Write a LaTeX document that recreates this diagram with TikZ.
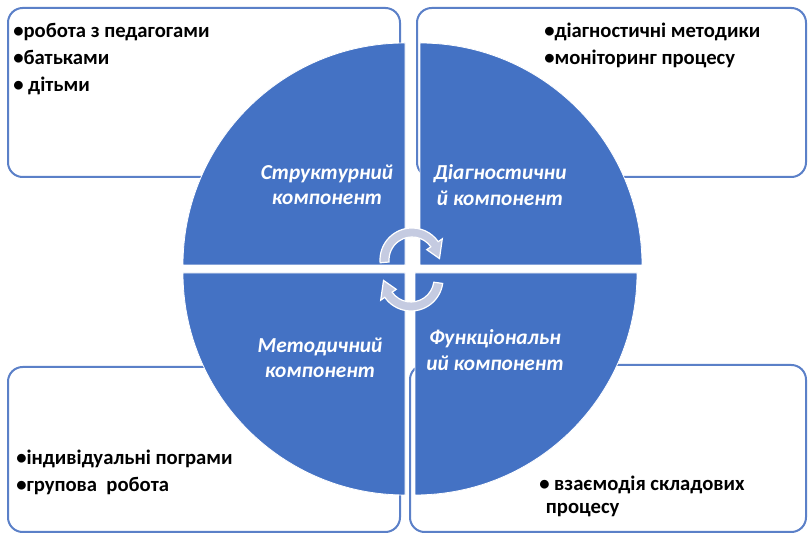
\documentclass[tikz,border=0pt]{standalone}
\usepackage{fontspec}
\setmainfont{Carlito}
\usetikzlibrary{positioning}
\definecolor{quadblue}{HTML}{4472C4}
\definecolor{boxblue}{HTML}{5B80C8}
\definecolor{cyclegrey}{HTML}{C5CBE1}

\begin{document}
\begin{tikzpicture}[x=0.75pt, y=0.75pt,
  listbox/.style={draw=boxblue, line width=1.5pt, rounded corners=11pt, fill=white, inner sep=0pt},
  quarter/.style={fill=quadblue, draw=white, line width=0.6pt},
  quadlabel/.style={text=white, font=\fontsize{16}{19}\selectfont\bfseries\itshape, align=center, inner sep=0pt},
  listtext/.style={font=\fontsize{15.5}{20.25}\selectfont\bfseries, align=left, anchor=north west, inner sep=0pt},
  cyclearrow/.style={fill=cyclegrey, draw=white, line width=0.9pt}]
  \useasboundingbox[fill=white] (0,0) rectangle (808,534);

  % Boxes
  \node [listbox, minimum width=294pt, minimum height=126.75pt] (structbox) at (204,441.5) {};
  \node [listbox, minimum width=291.75pt, minimum height=126.75pt] (diagbox) at (611.5,441.5) {};
  \node [listbox, minimum width=294pt, minimum height=123.75pt] (methodbox) at (204,84.5) {};
  \node [listbox, minimum width=297pt, minimum height=125.25pt] (funcbox) at (608,85.5) {};

  % Quarters
  \draw [quarter] (405,269) -- ++(-222,0) arc[start angle=180, end angle=90, radius=222] -- cycle;
  \draw [quarter] (420,269) -- ++(0,222) arc[start angle=90, end angle=0, radius=222] -- cycle;
  \draw [quarter] (405,261) -- ++(0,-222) arc[start angle=270, end angle=180, radius=222] -- cycle;
  \draw [quarter] (415,261) -- ++(222,0) arc[start angle=0, end angle=-90, radius=222] -- cycle;

  % Labels
  \node [quadlabel] (struct) at (327,349) {Структурний\\компонент};
  \node [quadlabel] (diag) at (500,349) {Діагностични\\й компонент};
  \node [quadlabel] (method) at (320,176) {Методичний\\компонент};
  \node [quadlabel] (func) at (495,184) {Функціональн\\ий компонент};

  \node [listtext] (structlist) at ([shift={(6,-16)}]structbox.north west) {•робота з педагогами\\•батьками\\• дітьми};
  \node [listtext] (diaglist) at ([shift={(128,-16)}]diagbox.north west) {•діагностичні методики\\•моніторинг процесу};
  \node [listtext] (methodlist) at ([shift={(9,-84)}]methodbox.north west) {•індивідуальні пограми\\•групова~~робота};
  \node [listtext] (funclist) at ([shift={(130,-112)}]funcbox.north west) {• взаємодія~складових\\[-3pt]\hspace{5pt}процесу};

  % Cycle arrows
  \begin{scope}[shift={(412,274)}]
    \draw [cyclearrow] (185:32) arc[start angle=185, end angle=35, radius=32] -- (35:37) -- (3:27.5) -- (35:18) -- (35:23) arc[start angle=35, end angle=185, radius=23] -- cycle;
  \end{scope}
  \begin{scope}[shift={(411,255)}]
    \draw [cyclearrow] (-8:32) arc[start angle=-8, end angle=-145, radius=32] -- (-145:37) -- (-177:27.5) -- (-145:18) -- (-145:23) arc[start angle=-145, end angle=-8, radius=23] -- cycle;
  \end{scope}
\end{tikzpicture}
\end{document}
